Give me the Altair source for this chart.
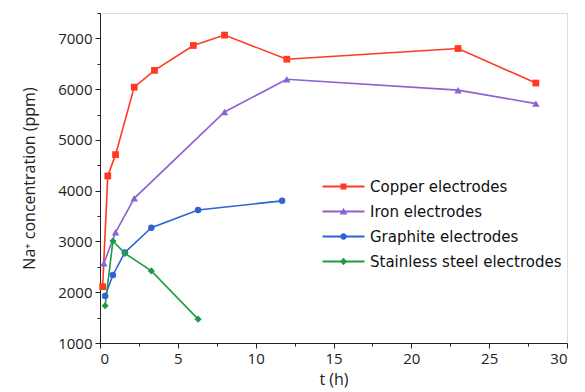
import altair as alt
import pandas as pd

series = ["Copper electrodes", "Iron electrodes", "Graphite electrodes", "Stainless steel electrodes"]
colors = ["#ff3a22", "#8c62cf", "#2f62d4", "#1f9a45"]
shapes = ["square", "triangle-up", "circle", "diamond"]
sizes = [46, 55, 42, 50]

copper_t = [0.17, 0.5, 1.0, 2.2, 3.5, 6.0, 8.0, 12.0, 23.0, 28.0]
copper_c = [2110, 4290, 4710, 6040, 6370, 6860, 7065, 6590, 6800, 6120]
iron_t = [0.25, 1.0, 2.2, 8.0, 12.0, 23.0, 28.0]
iron_c = [2570, 3180, 3850, 5550, 6195, 5980, 5715]
graphite_t = [0.33, 0.83, 1.6, 3.3, 6.3, 11.7]
graphite_c = [1925, 2340, 2785, 3270, 3620, 3800]
steel_t = [0.33, 0.83, 1.6, 3.3, 6.3]
steel_c = [1735, 3010, 2765, 2420, 1470]

x_ticks = [0, 5, 10, 15, 20, 25, 30]
x_minor = [2.5, 7.5, 12.5, 17.5, 22.5, 27.5]
y_ticks = [1000, 2000, 3000, 4000, 5000, 6000, 7000]
y_minor = [1500, 2500, 3500, 4500, 5500, 6500, 7500]

rows = []
for name, ts, cs in zip(series, [copper_t, iron_t, graphite_t, steel_t],
                        [copper_c, iron_c, graphite_c, steel_c]):
    for t, c in zip(ts, cs):
        rows.append({"series": name, "t": t, "c": c})
df = pd.DataFrame(rows)

# legend symbols: a short line with the marker in the middle
legend_paths = [
    "M-5,-0.14H1V0.14H-5Z M-2.43,-0.43H-1.57V0.43H-2.43Z",
    "M-5,-0.14H1V0.14H-5Z M-2,-0.52L-1.45,0.42L-2.55,0.42Z",
    "M-5,-0.14H1V0.14H-5Z M-2.46,0A0.46,0.46 0 1,1 -1.54,0A0.46,0.46 0 1,1 -2.46,0Z",
    "M-5,-0.14H1V0.14H-5Z M-2,-0.52L-1.48,0L-2,0.52L-2.52,0Z",
]

FONT = "Open Sans"
xdom = [0, 30]
ydom = [1000, 7500]

x_main = alt.X("t:Q", scale=alt.Scale(domain=xdom, nice=False),
               axis=alt.Axis(orient="bottom", values=x_ticks, title="t (h)", grid=False,
                             format="d", tickSize=5, labelFontSize=15, titleFontSize=16,
                             titleFontWeight="normal", labelFont=FONT, titleFont=FONT,
                             labelColor="#222", titleColor="#222", domainColor="#222",
                             tickColor="#222", titlePadding=5, labelPadding=3))
y_main = alt.Y("c:Q", scale=alt.Scale(domain=ydom, nice=False),
               axis=alt.Axis(orient="left", values=y_ticks, title="Na⁺ concentration (ppm)",
                             format="d", grid=False, tickSize=5, labelFontSize=15,
                             titleFontSize=16, titleFontWeight="normal", labelFont=FONT,
                             titleFont=FONT, labelColor="#222", titleColor="#222",
                             domainColor="#222", tickColor="#222", titlePadding=20,
                             labelPadding=3))

base = alt.Chart(df)

layers = []
for name, col in zip(series, colors):
    layers.append(
        base.transform_filter(alt.datum.series == name)
        .mark_line(strokeWidth=1.6, color=col)
        .encode(x=x_main, y=y_main)
    )
for name, col, shp, sz in zip(series, colors, shapes, sizes):
    layers.append(
        base.transform_filter(alt.datum.series == name)
        .mark_point(filled=True, opacity=1, shape=shp, size=sz, strokeWidth=0, color=col)
        .encode(x=x_main, y=y_main)
    )

leg = alt.Legend(title=None, orient="none", legendX=250, legendY=166, padding=0,
                 labelFontSize=15, labelFont="DejaVu Sans", labelColor="#111",
                 labelLimit=0, symbolSize=196, rowPadding=9, labelOffset=5,
                 symbolOpacity=1, symbolStrokeWidth=0)

legend_layer = base.transform_filter("false").mark_point(filled=True, opacity=1).encode(
    x=x_main, y=y_main,
    color=alt.Color("series:N", scale=alt.Scale(domain=series, range=colors), legend=leg),
    shape=alt.Shape("series:N", scale=alt.Scale(domain=series, range=legend_paths), legend=leg),
)
layers.append(legend_layer)

main = alt.layer(*layers)

minor = base.mark_point(opacity=0).encode(
    x=alt.X("t:Q", scale=alt.Scale(domain=xdom, nice=False),
            axis=alt.Axis(orient="bottom", values=x_minor, labels=False, title=None,
                          domain=False, grid=False, tickSize=3, tickColor="#222")),
    y=alt.Y("c:Q", scale=alt.Scale(domain=ydom, nice=False),
            axis=alt.Axis(orient="left", values=y_minor, labels=False, title=None,
                          domain=False, grid=False, tickSize=3, tickColor="#222")),
)

chart = alt.layer(main, minor).resolve_scale(x="independent", y="independent").properties(
    width=467, height=330,
    autosize=alt.AutoSizeParams(type="none"),
    padding={"left": 92, "top": 5, "right": 10, "bottom": 49},
).configure_view(stroke=None).configure(background="white")

chart.save("out.html", embed_options={"renderer": "svg", "actions": False})
